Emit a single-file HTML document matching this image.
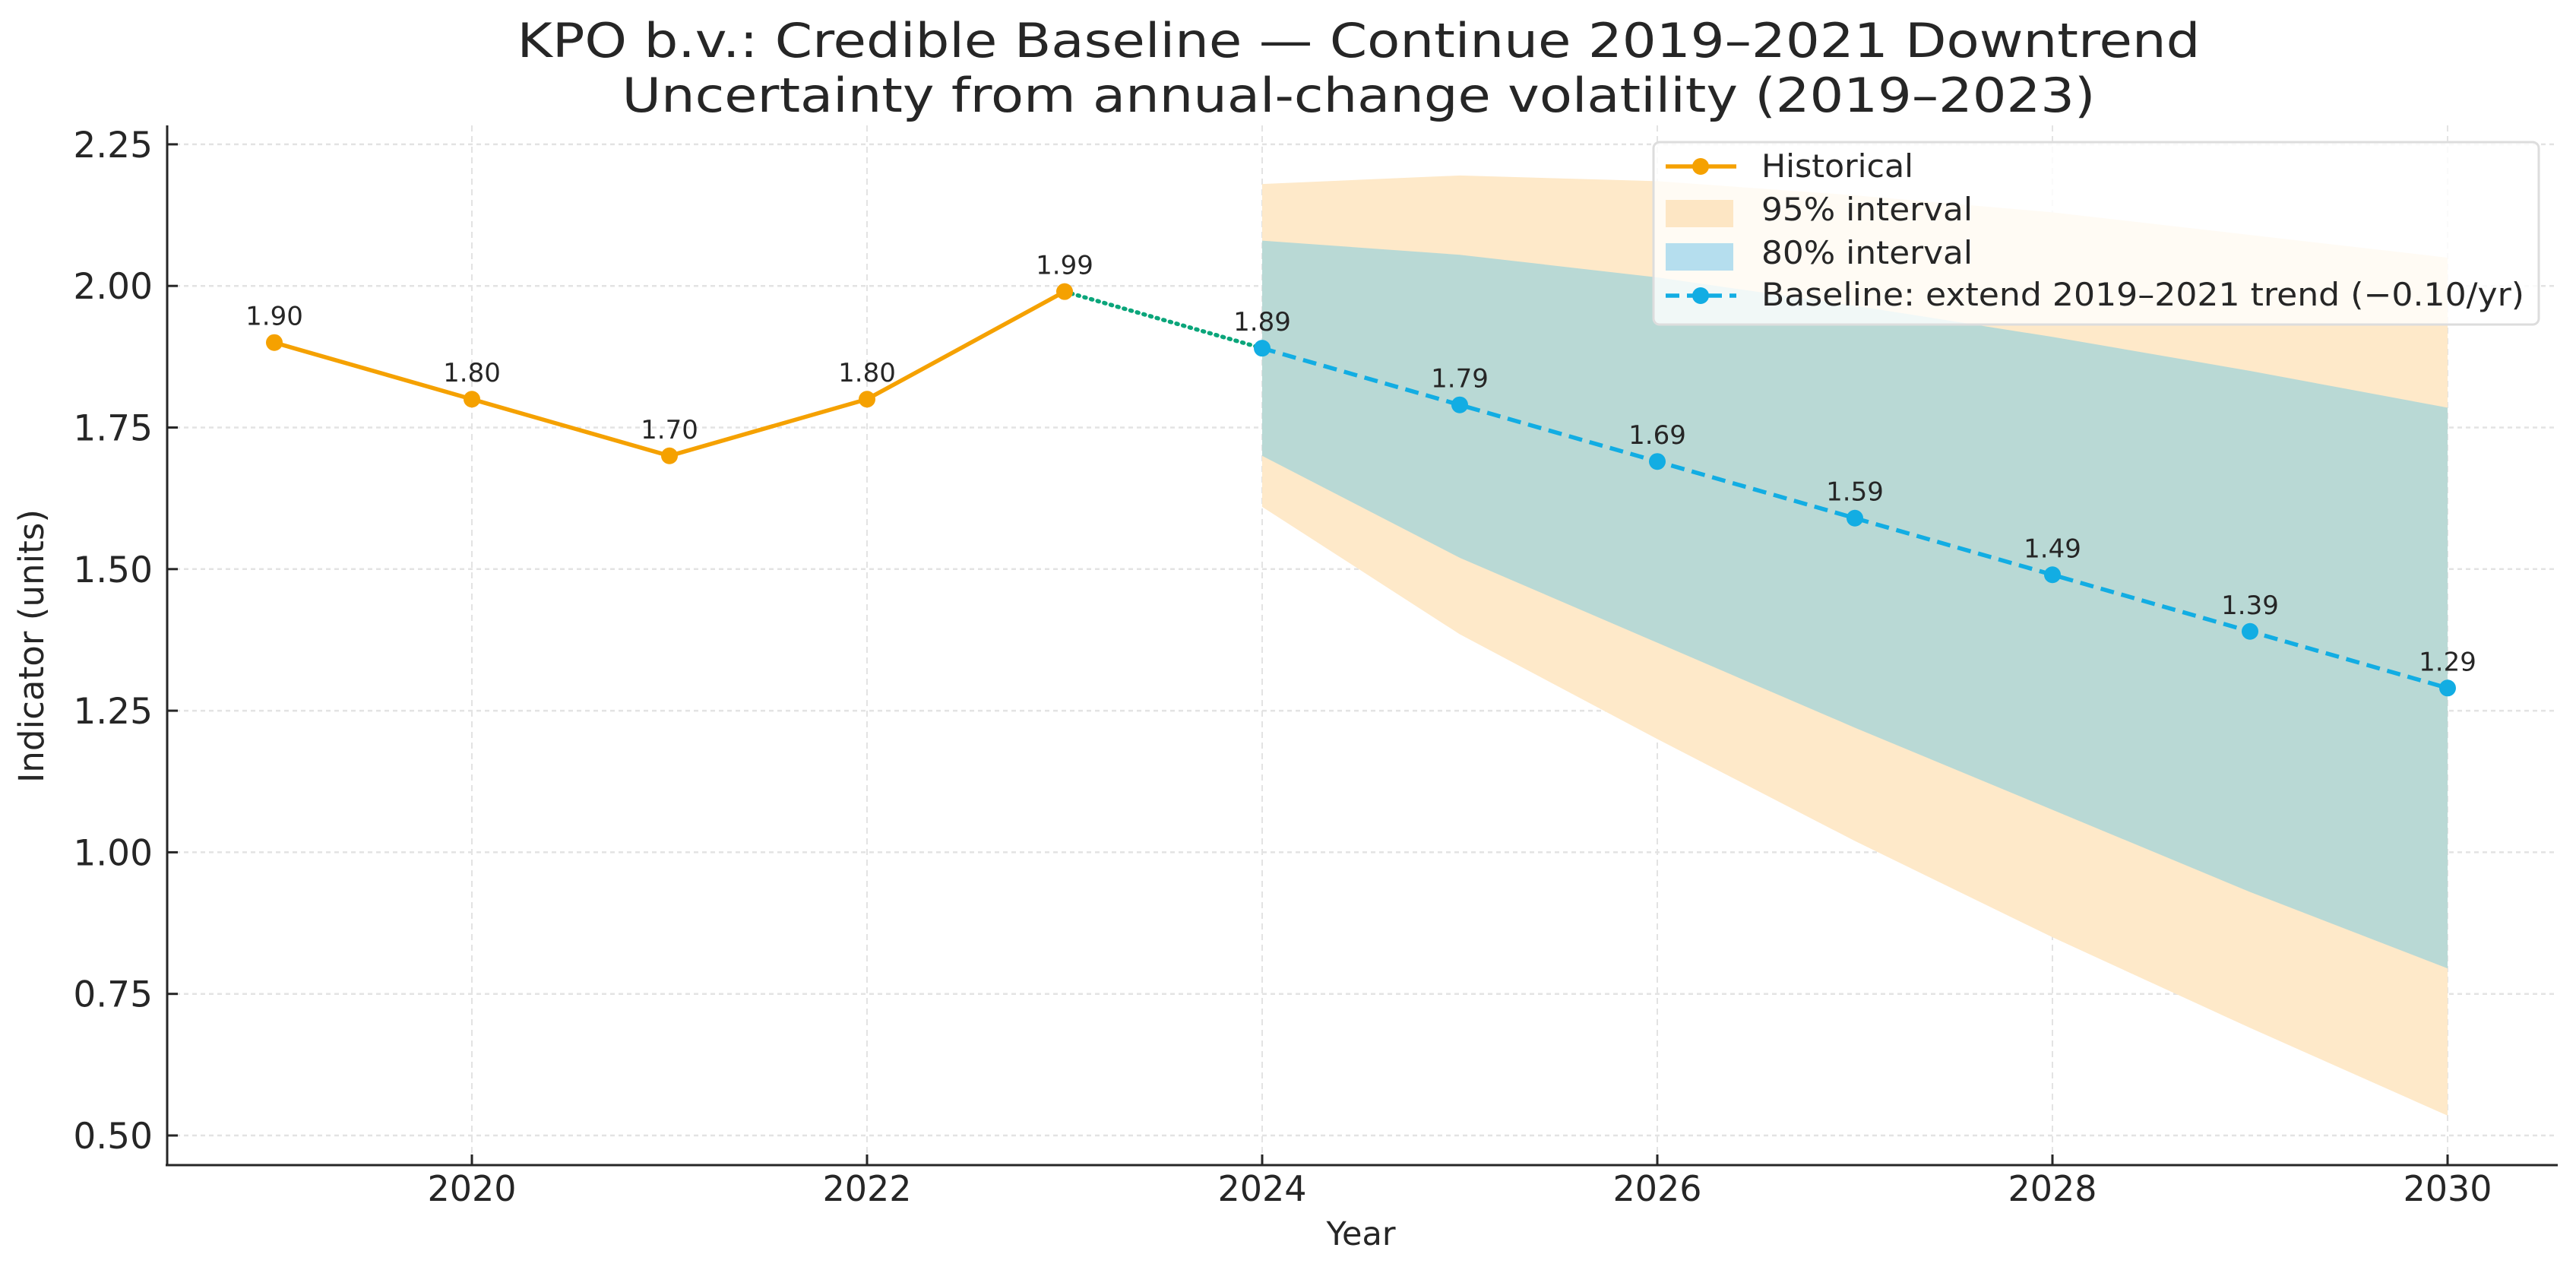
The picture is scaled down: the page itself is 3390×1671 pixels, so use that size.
<!DOCTYPE html>
<html><head><meta charset="utf-8"><style>
html,body{margin:0;padding:0;background:#fff}
svg text{font-family:"DejaVu Sans","Liberation Sans",sans-serif;fill:#262626}
</style></head><body>
<svg id="chart" width="3390" height="1666" viewBox="0 0 3390 1666" xmlns="http://www.w3.org/2000/svg">
<text x="1788" y="75" font-size="62" text-anchor="middle" textLength="2215" lengthAdjust="spacingAndGlyphs">KPO b.v.: Credible Baseline — Continue 2019–2021 Downtrend</text>
<text x="1788" y="147" font-size="62" text-anchor="middle" textLength="1939" lengthAdjust="spacingAndGlyphs">Uncertainty from annual-change volatility (2019–2023)</text>
<g id="grid"></g><g id="bands"></g><g id="lines"></g><g id="labels"></g>
<line x1="220" y1="165" x2="220" y2="1533" stroke="#262626" stroke-width="3"/>
<line x1="218" y1="1533" x2="3366" y2="1533" stroke="#262626" stroke-width="3"/>
<g id="ticks"></g>
<text x="1791" y="1638" font-size="43" text-anchor="middle">Year</text>
<text transform="translate(57,850) rotate(-90)" font-size="45" text-anchor="middle" textLength="360" lengthAdjust="spacingAndGlyphs">Indicator (units)</text>
<g>
<rect x="2176" y="187" width="1165" height="240" rx="8" fill="#fff" fill-opacity="0.8" stroke="#ddd" stroke-width="3"/>
<line x1="2192" y1="219" x2="2285" y2="219" stroke="#f5a100" stroke-width="5.5"/><circle cx="2238" cy="219" r="11" fill="#f5a100"/>
<text x="2318" y="233" font-size="42" textLength="200" lengthAdjust="spacingAndGlyphs">Historical</text>
<rect x="2192" y="263" width="89" height="36" fill="#fde6c4"/>
<text x="2318" y="290" font-size="42" textLength="278" lengthAdjust="spacingAndGlyphs">95% interval</text>
<rect x="2192" y="320" width="89" height="36" fill="#b5deee"/>
<text x="2318" y="347" font-size="42" textLength="278" lengthAdjust="spacingAndGlyphs">80% interval</text>
<line x1="2192" y1="389" x2="2285" y2="389" stroke="#12ade3" stroke-width="5.5" stroke-dasharray="18,10"/><circle cx="2238" cy="389" r="11" fill="#12ade3"/>
<text x="2318" y="402" font-size="42" textLength="1004" lengthAdjust="spacingAndGlyphs">Baseline: extend 2019–2021 trend (−0.10/yr)</text>
</g>
</svg>
<script>
const histYears=[2019,2020,2021,2022,2023];
const histValues=[1.90,1.80,1.70,1.80,1.99];
const fcYears=[2024,2025,2026,2027,2028,2029,2030];
const fcValues=[1.89,1.79,1.69,1.59,1.49,1.39,1.29];
const hi95=[2.18,2.195,2.185,2.16,2.13,2.09,2.05];
const lo95=[1.61,1.385,1.20,1.02,0.85,0.69,0.535];
const hi80=[2.08,2.055,2.015,1.965,1.91,1.85,1.785];
const lo80=[1.70,1.52,1.37,1.22,1.075,0.93,0.795];
const yTicks=[0.50,0.75,1.00,1.25,1.50,1.75,2.00,2.25];
const xTicks=[2020,2022,2024,2026,2028,2030];
const NS='http://www.w3.org/2000/svg';
const X=v=>361+(v-2019)*260;
const Y=v=>1494-(v-0.5)*745.2;
function mk(p,t,a){const e=document.createElementNS(NS,t);for(const k in a)e.setAttribute(k,a[k]);document.getElementById(p).appendChild(e);return e;}
yTicks.forEach(v=>{
 const g=mk('grid','line',{x1:220,x2:3364,y1:Y(v),y2:Y(v),stroke:'#e3e3e3','stroke-width':2.5,'stroke-dasharray':'6,5'});
 
 
 mk('ticks','line',{x1:220,x2:234,y1:Y(v),y2:Y(v),stroke:'#262626','stroke-width':3});
 const t=mk('ticks','text',{x:201,y:Y(v)+17,'font-size':47,'text-anchor':'end'});t.textContent=v.toFixed(2);
 
 
});
xTicks.forEach(v=>{
 const g=mk('grid','line',{x1:X(v),x2:X(v),y1:165,y2:1533,stroke:'#e3e3e3','stroke-width':2,'stroke-dasharray':'8,6'});
 
 
 mk('ticks','line',{x1:X(v),x2:X(v),y1:1519,y2:1533,stroke:'#262626','stroke-width':3});
 const t=mk('ticks','text',{x:X(v),y:1580,'font-size':46,'text-anchor':'middle'});t.textContent=v;
 
 
});
function band(hi,lo,fill,name){
 let d=fcYears.map((y,i)=>(i?'L':'M')+X(y)+','+Y(hi[i])).join('');
 for(let i=fcYears.length-1;i>=0;i--)d+='L'+X(fcYears[i])+','+Y(lo[i]);
 const p=mk('bands','path',{d:d+'Z',fill:fill});
 
 
}
band(hi95,lo95,'#fee9c9','band-95');
band(hi80,lo80,'#b9d9d5','band-80');
const c=mk('lines','line',{x1:X(2023),y1:Y(histValues[4]),x2:X(2024),y2:Y(fcValues[0]),stroke:'#0aa57a','stroke-width':5.5,'stroke-dasharray':'2,7','stroke-linecap':'round'});


function series(xs,vs,col,dash,name){
 const l=mk('lines','polyline',{points:xs.map((y,i)=>X(y)+','+Y(vs[i])).join(' '),fill:'none',stroke:col,'stroke-width':5.5});
 if(dash)l.setAttribute('stroke-dasharray','18,10');
 
 
 xs.forEach((y,i)=>{
  const m=mk('lines','circle',{cx:X(y),cy:Y(vs[i]),r:11,fill:col});
  
  
  const t=mk('labels','text',{x:X(y),y:Y(vs[i])-23,'font-size':34,'text-anchor':'middle'});t.textContent=vs[i].toFixed(2);
  
  
 });
}
series(histYears,histValues,'#f5a100',false,'historical');
series(fcYears,fcValues,'#12ade3',true,'baseline');
</script>
</body></html>
